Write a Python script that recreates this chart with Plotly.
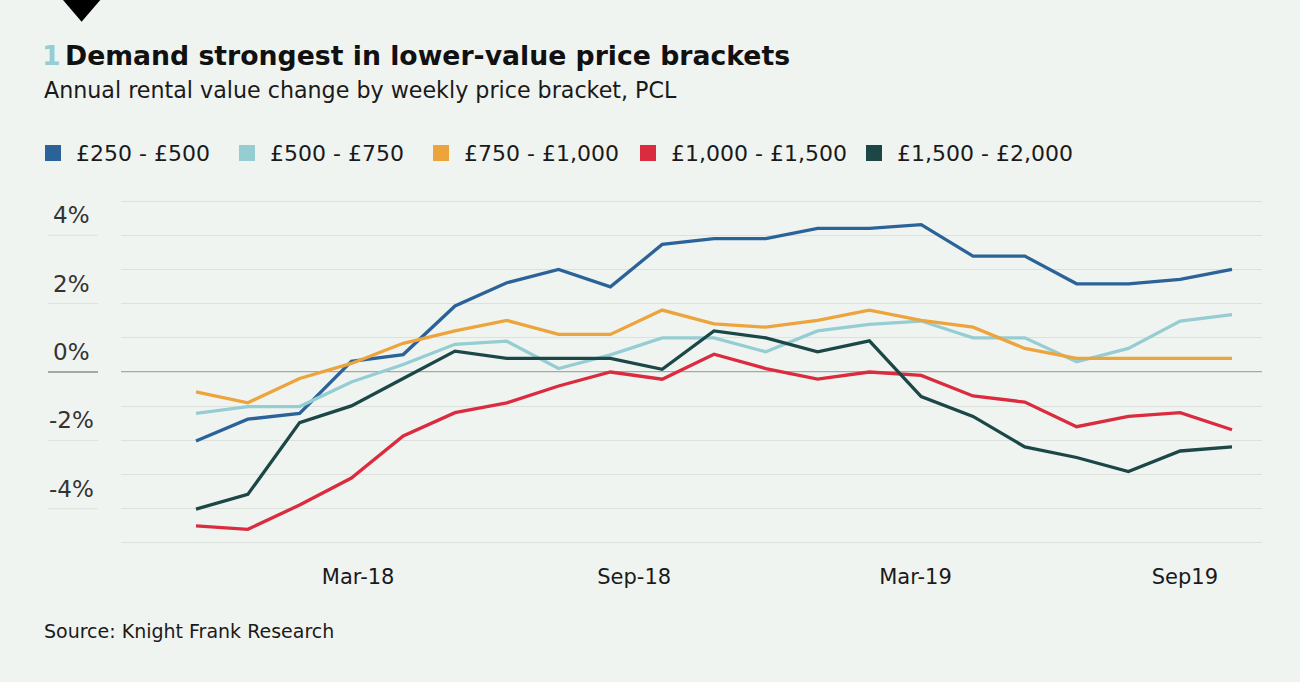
import plotly.graph_objects as go

# ---- data ----
periods = list(range(21))
series_names = ["£250 - £500", "£500 - £750", "£750 - £1,000", "£1,000 - £1,500", "£1,500 - £2,000"]
v_250_500 = [-2.02, -1.38, -1.21, 0.31, 0.51, 1.93, 2.61, 3.00, 2.49, 3.73, 3.90,
             3.90, 4.20, 4.20, 4.31, 3.39, 3.39, 2.58, 2.58, 2.71, 3.00]
v_500_750 = [-1.21, -1.01, -1.01, -0.29, 0.22, 0.81, 0.90, 0.10, 0.50, 1.00, 1.00,
             0.59, 1.20, 1.39, 1.49, 1.00, 1.00, 0.30, 0.69, 1.49, 1.68]
v_750_1000 = [-0.58, -0.90, -0.19, 0.25, 0.84, 1.20, 1.51, 1.10, 1.10, 1.81, 1.41,
              1.31, 1.51, 1.81, 1.51, 1.31, 0.69, 0.40, 0.40, 0.40, 0.40]
v_1000_1500 = [-4.50, -4.60, -3.89, -3.10, -1.87, -1.19, -0.90, -0.41, 0.00, -0.21, 0.52,
               0.10, -0.21, 0.00, -0.10, -0.70, -0.88, -1.60, -1.30, -1.19, -1.69]
v_1500_2000 = [-4.01, -3.58, -1.48, -0.99, -0.19, 0.61, 0.40, 0.40, 0.40, 0.08, 1.20,
               1.00, 0.59, 0.91, -0.72, -1.30, -2.19, -2.50, -2.91, -2.31, -2.19]
x_tick_labels = ["Mar-18", "Sep-18", "Mar-19", "Sep19"]
x_tick_at = [3.13, 8.46, 13.89, 19.09]
y_tick_values = [4, 2, 0, -2, -4]
y_tick_labels = ["4%", "2%", "0%", "-2%", "-4%"]

all_values = [v_250_500, v_500_750, v_750_1000, v_1000_1500, v_1500_2000]
colors = ["#2B6399", "#96CDD3", "#EDA43C", "#DB2B3F", "#1C4747"]

# ---- geometry helpers ----
W, H = 1300, 682
YR = 5.03                      # y half-range (so the +/-5% grid lines are drawn)
ML, MR = 121, 38
MT = 200
MB = 138
PW = W - ML - MR
PH = H - MT - MB

def px(x):
    return (x - ML) / PW

def py(y):
    return (H - MB - y) / PH

FONT = "DejaVu Sans"
BG = "#F0F4F1"
GRID = "#DDE1DE"
ZERO = "#8E8E8E"

fig = go.Figure()
for name, vals, col in zip(series_names, all_values, colors):
    fig.add_trace(go.Scatter(
        x=periods, y=vals, mode="lines", name=name,
        line=dict(color=col, width=3.3, shape="linear"),
        showlegend=False, hoverinfo="x+y+name",
    ))

shapes = []
annotations = []

# black triangle marker at top
shapes.append(dict(type="path", xref="paper", yref="paper",
                   path=f"M {px(58.7)} {py(-5)} L {px(104.6)} {py(-5)} L {px(81.6)} {py(21.7)} Z",
                   fillcolor="black", line=dict(width=0)))

# title / subtitle
annotations.append(dict(xref="paper", yref="paper", x=px(40), y=py(56), xanchor="left", yanchor="middle",
                        showarrow=False, text="<b>1</b>",
                        font=dict(family=FONT, size=26.7, color="#96CDD3")))
annotations.append(dict(xref="paper", yref="paper", x=px(63), y=py(56), xanchor="left", yanchor="middle",
                        showarrow=False,
                        text="<b>Demand strongest in lower-value price brackets</b>",
                        font=dict(family=FONT, size=26.7, color="#111111")))
annotations.append(dict(xref="paper", yref="paper", x=px(42), y=py(90), xanchor="left", yanchor="middle",
                        showarrow=False,
                        text="Annual rental value change by weekly price bracket, PCL",
                        font=dict(family=FONT, size=22.2, color="#1a1a1a")))

# legend (manual squares + labels)
legend_x = [45, 239, 433, 640, 866]
for lx, name, col in zip(legend_x, series_names, colors):
    shapes.append(dict(type="rect", xref="paper", yref="paper",
                       x0=px(lx), x1=px(lx + 16), y0=py(161), y1=py(145),
                       fillcolor=col, line=dict(width=0)))
    annotations.append(dict(xref="paper", yref="paper", x=px(lx + 29), y=py(153),
                            xanchor="left", yanchor="middle", showarrow=False, text=name,
                            font=dict(family=FONT, size=22, color="#1a1a1a")))

# y tick labels with short rules beneath
for v, lab in zip(y_tick_values, y_tick_labels):
    shapes.append(dict(type="line", xref="paper", yref="y", x0=px(48), x1=px(98), y0=v, y1=v,
                       line=dict(color=ZERO if v == 0 else GRID, width=1.3 if v == 0 else 1)))
    annotations.append(dict(xref="paper", yref="y", x=px(71), y=v, xanchor="center", yanchor="bottom",
                            yshift=5, showarrow=False, text=lab,
                            font=dict(family=FONT, size=23, color="#333333")))

# zero line across plot
shapes.append(dict(type="line", xref="paper", yref="y", x0=0, x1=1, y0=0, y1=0,
                   line=dict(color=ZERO, width=1.3), layer="below"))

# source
annotations.append(dict(xref="paper", yref="paper", x=px(42), y=py(631), xanchor="left", yanchor="middle",
                        showarrow=False, text="Source: Knight Frank Research",
                        font=dict(family=FONT, size=19, color="#1a1a1a")))

x0_px, step_px = 196, 51.8
fig.update_layout(
    width=W, height=H,
    margin=dict(l=ML, r=MR, t=MT, b=MB, pad=0),
    paper_bgcolor=BG, plot_bgcolor=BG,
    shapes=shapes, annotations=annotations,
    showlegend=False,
    xaxis=dict(range=[(ML - x0_px) / step_px, (W - MR - x0_px) / step_px],
               tickvals=x_tick_at, ticktext=x_tick_labels,
               showgrid=False, zeroline=False, showline=False,
               ticks="outside", ticklen=14, tickcolor="rgba(0,0,0,0)",
               tickfont=dict(family=FONT, size=21, color="#1a1a1a"), fixedrange=True),
    yaxis=dict(range=[-YR, YR], dtick=1, tick0=0, showticklabels=False,
               showgrid=True, gridcolor=GRID, gridwidth=1,
               zeroline=False, showline=False, fixedrange=True),
)

fig.write_html("out.html", config={"displayModeBar": False},
               post_script="document.body.style.margin='0';document.body.style.background='#F0F4F1';")
